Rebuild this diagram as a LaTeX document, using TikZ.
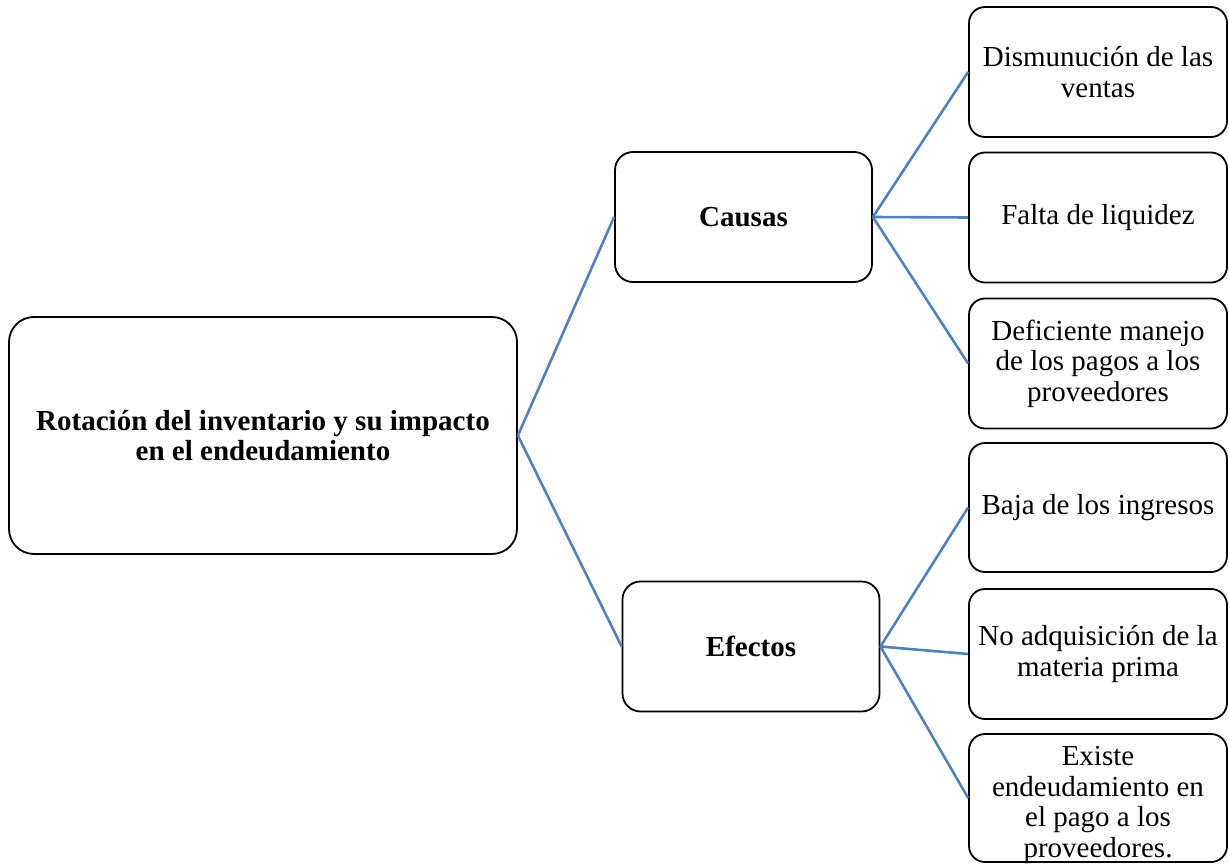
\documentclass[tikz,border=0pt]{standalone}
\usepackage{fontspec}
\setmainfont{Liberation Serif}
\definecolor{linkblue}{HTML}{4F81BD}
\tikzset{
  box/.style={draw=black, line width=1.8pt, fill=white, rectangle, inner sep=0pt,
    align=center, font=\fontsize{29}{30.5}\selectfont},
  rootbox/.style={box, rounded corners=25pt, minimum width=508pt, minimum height=237pt, font=\fontsize{29}{30}\selectfont\bfseries},
  midbox/.style={box, rounded corners=18pt, minimum width=257pt, minimum height=130pt, font=\fontsize{29}{30}\selectfont\bfseries},
  leafbox/.style={box, rounded corners=16pt, minimum width=258pt, minimum height=130pt},
  leaftext/.style={inner sep=0pt, align=center, font=\fontsize{29}{30.5}\selectfont},
  link/.style={draw=linkblue, line width=2.6pt}
}
\begin{document}
\begin{tikzpicture}[x={(1pt,0)}, y={(0,-1pt)}]
\useasboundingbox (0,0) rectangle (1229,864);
\node[rootbox] (root) at (263,435.5) {Rotación del inventario y su impacto\\en el endeudamiento};
\node[midbox] (causas) at (743.5,217) {Causas};
\node[midbox] (efectos) at (751,646.5) {Efectos};
\node[leafbox] (c1) at (1098,72) {Dismunución de las\\ventas};
\node[leafbox] (c2) at (1098,217.5) {Falta de liquidez};
\node[leafbox] (c3) at (1098,363.5) {Deficiente manejo\\de los pagos a los\\proveedores};
\node[leafbox, minimum height=129pt] (e1) at (1098,507.5) {Baja de los ingresos};
\node[leafbox] (e2) at (1098,654) {No adquisición de la\\materia prima};
\node[leafbox, minimum height=128pt,
  label={[leaftext, yshift=-7pt]center:{Existe\\endeudamiento en\\el pago a los\\proveedores.}}] (e3) at (1098,798) {};
\draw[link] (root.east) -- (causas.west);
\draw[link] (root.east) -- (efectos.west);
\draw[link] (causas.east) -- (c1.west);
\draw[link] (causas.east) -- (c2.west);
\draw[link] (causas.east) -- (c3.west);
\draw[link] (efectos.east) -- (e1.west);
\draw[link] (efectos.east) -- (e2.west);
\draw[link] (efectos.east) -- (e3.west);
\end{tikzpicture}
\end{document}
